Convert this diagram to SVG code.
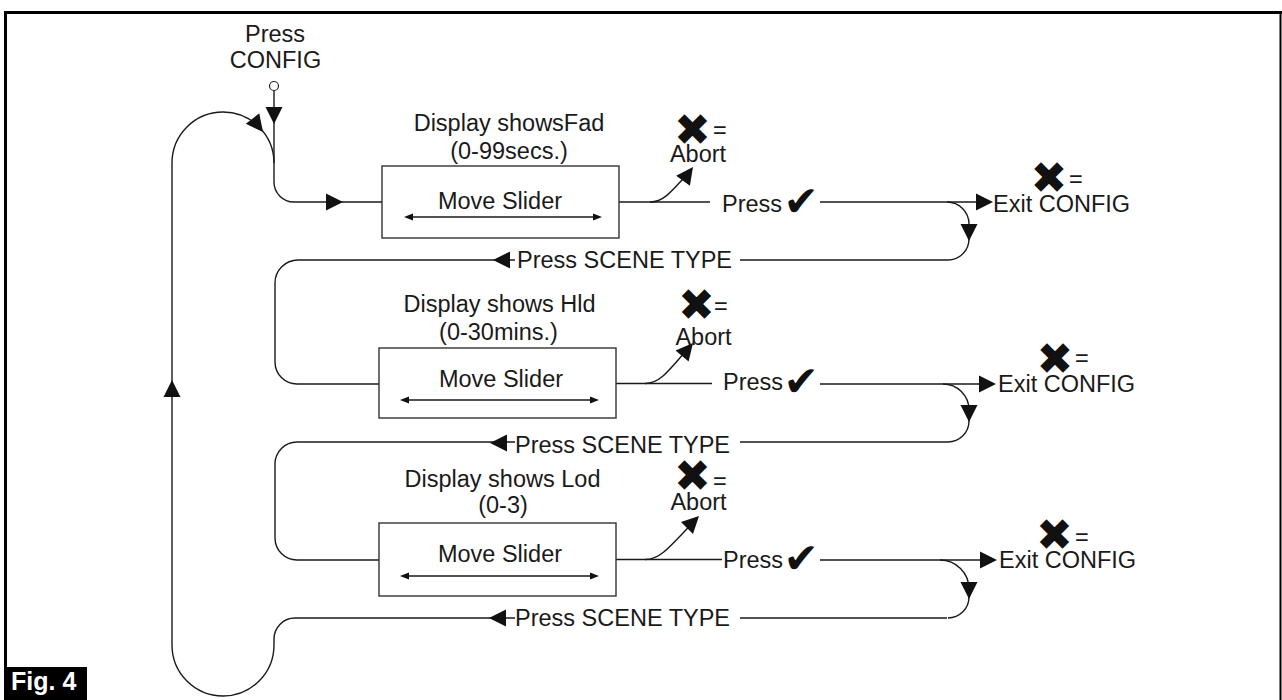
<svg xmlns="http://www.w3.org/2000/svg" xmlns:xlink="http://www.w3.org/1999/xlink" width="1282" height="700" viewBox="0 0 1282 700">
<style>
  .ln { fill: none; stroke: #1a1a1a; stroke-width: 1.4; }
  .box { fill: #fff; stroke: #333; stroke-width: 1.4; }
  .t { font-family: "Liberation Sans", Arial, sans-serif; font-size: 23.5px; fill: #1a1a1a; }
  .c { text-anchor: middle; }
  .sym { font-family: "DejaVu Sans", sans-serif; fill: #111; text-anchor: middle; }
  .x { font-size: 44px; }
  .ck { font-size: 42px; }
  .ah { fill: #111; }
</style>
<defs>
  <path id="ah" d="M0,0 L-17,-8.5 L-17,8.5 Z"/>
  <path id="sa" d="M0,0 L-9,-3.5 L-9,3.5 Z"/>
</defs>
<rect width="1282" height="700" fill="#fff"/>
<g id="frame">
  <line x1="5.5" y1="11" x2="5.5" y2="700" stroke="#000" stroke-width="3"/>
  <line x1="4" y1="12.5" x2="1282" y2="12.5" stroke="#000" stroke-width="3"/>
  <line x1="1280.5" y1="11" x2="1280.5" y2="700" stroke="#000" stroke-width="2"/>
</g>
<g id="fig-label">
  <rect x="4" y="667" width="83" height="33" fill="#000"/>
  <text x="11" y="690" font-family="Liberation Sans, Arial, sans-serif" font-size="25" font-weight="bold" fill="#fff">Fig. 4</text>
</g>
<g id="start">
  <text class="t c" x="275" y="42" font-size="22">Press</text>
  <text class="t c" x="275.5" y="68" font-size="22">CONFIG</text>
  <circle cx="274" cy="86" r="4.5" fill="#fff" stroke="#222" stroke-width="1.2"/>
</g>
<g id="connectors">
  <!-- entry -->
  <path class="ln" d="M274,90.5 L274,182 A20,20 0 0 0 294,202 L382,202"/>
  <use href="#ah" class="ah" transform="translate(274,124) rotate(90)"/>
  <use href="#ah" class="ah" transform="translate(343,202)"/>
  <!-- big return loop -->
  <path class="ln" d="M740,618 L947,618 M515,618 L295,618 A21,21 0 0 0 274,639 L274,645 A51,51 0 0 1 172,645 L172,163 A51,51 0 0 1 274,163"/>
  <use href="#ah" class="ah" transform="translate(172,380) rotate(-90)"/>
  <use href="#ah" class="ah" transform="translate(263,132) rotate(52)"/>
  <!-- row 1 -->
  <path class="ln" d="M619,202 L710,202 M820,202 L977,202"/>
  <path class="ln" d="M650,202 C662,202 668,196 690,171"/>
  <use href="#ah" class="ah" transform="translate(693,167) rotate(-54)"/>
  <use href="#ah" class="ah" transform="translate(993,202)"/>
  <path class="ln" d="M947,202 A22,22 0 0 1 969,224 L969,239 A21,21 0 0 1 948,260 L740,260 M515,260 L298,260 A23,23 0 0 0 275,283 L275,362 A22,22 0 0 0 297,384 L379,384"/>
  <use href="#ah" class="ah" transform="translate(969,241) rotate(90)"/>
  <use href="#ah" class="ah" transform="translate(493,260) rotate(180)"/>
  <!-- row 2 -->
  <path class="ln" d="M616,383.5 L712,383.5 M820,384 L979,384"/>
  <path class="ln" d="M645,383.5 C658,383.5 665,376 690,346"/>
  <use href="#ah" class="ah" transform="translate(693,343) rotate(-50)"/>
  <use href="#ah" class="ah" transform="translate(996,384)"/>
  <path class="ln" d="M943,384 A26,26 0 0 1 969,410 L969,421 A21,21 0 0 1 948,442 L740,442 M515,442 L297,442 A22,22 0 0 0 275,464 L275,538 A22,22 0 0 0 297,560 L379,560"/>
  <use href="#ah" class="ah" transform="translate(969,422) rotate(90)"/>
  <use href="#ah" class="ah" transform="translate(490,443) rotate(180)"/>
  <!-- row 3 -->
  <path class="ln" d="M616,559.5 L722,559.5 M820,560 L980,560"/>
  <path class="ln" d="M645,559.5 C658,559.5 665,553 696,519"/>
  <use href="#ah" class="ah" transform="translate(699,516) rotate(-45)"/>
  <use href="#ah" class="ah" transform="translate(997,560)"/>
  <path class="ln" d="M940,560 A29,29 0 0 1 969,589 L969,597 A21,21 0 0 1 948,618"/>
  <use href="#ah" class="ah" transform="translate(969,599) rotate(90)"/>
  <use href="#ah" class="ah" transform="translate(489,618) rotate(180)"/>
</g>
<g id="node-fad">
  <text class="t c" x="509" y="131">Display showsFad</text>
  <text class="t c" x="509" y="159">(0-99secs.)</text>
  <rect class="box" x="382" y="166" width="237" height="72"/>
  <text class="t c" x="500" y="209">Move Slider</text>
  <line class="ln" x1="410" y1="217" x2="596" y2="217" stroke-width="1.2"/>
  <use href="#sa" class="ah" transform="translate(404,217) rotate(180)"/>
  <use href="#sa" class="ah" transform="translate(602,217)"/>
</g>
<g id="node-hld">
  <text class="t c" x="499.5" y="312">Display shows Hld</text>
  <text class="t c" x="498.5" y="340">(0-30mins.)</text>
  <rect class="box" x="379" y="348" width="237" height="70"/>
  <text class="t c" x="501" y="387">Move Slider</text>
  <line class="ln" x1="406" y1="400" x2="593" y2="400" stroke-width="1.2"/>
  <use href="#sa" class="ah" transform="translate(400,400) rotate(180)"/>
  <use href="#sa" class="ah" transform="translate(599,400)"/>
</g>
<g id="node-lod">
  <text class="t c" x="502.5" y="487">Display shows Lod</text>
  <text class="t c" x="503" y="513">(0-3)</text>
  <rect class="box" x="379" y="523" width="237" height="73"/>
  <text class="t c" x="500" y="562">Move Slider</text>
  <line class="ln" x1="406" y1="576" x2="593" y2="576" stroke-width="2"/>
  <use href="#sa" class="ah" transform="translate(400,576) rotate(180)"/>
  <use href="#sa" class="ah" transform="translate(599,576)"/>
</g>
<g id="abort-1">
  <text class="sym x" x="692.5" y="145">✖</text>
  <text class="t" x="713" y="138">=</text>
  <text class="t c" x="698" y="162">Abort</text>
</g>
<g id="abort-2">
  <text class="sym x" x="696.5" y="320">✖</text>
  <text class="t" x="714" y="314">=</text>
  <text class="t c" x="703.5" y="345">Abort</text>
</g>
<g id="abort-3">
  <text class="sym x" x="692.5" y="491">✖</text>
  <text class="t" x="713" y="489">=</text>
  <text class="t c" x="698.5" y="510">Abort</text>
</g>
<g id="labels">
  <text class="t" x="722" y="212">Press</text>
  <text class="sym ck" x="801" y="216">✔</text>
  <text class="t" x="723" y="390">Press</text>
  <text class="sym ck" x="801" y="396">✔</text>
  <text class="t" x="723" y="568">Press</text>
  <text class="sym ck" x="801" y="573">✔</text>
  <text class="t" x="517" y="268">Press SCENE TYPE</text>
  <text class="t" x="515" y="453">Press SCENE TYPE</text>
  <text class="t" x="515" y="626">Press SCENE TYPE</text>
</g>
<g id="exit-1">
  <text class="sym x" x="1049" y="193">✖</text>
  <text class="t" x="1069" y="187">=</text>
  <text class="t" x="993" y="212">Exit CONFIG</text>
</g>
<g id="exit-2">
  <text class="sym x" x="1055" y="374">✖</text>
  <text class="t" x="1075" y="366">=</text>
  <text class="t" x="998" y="392">Exit CONFIG</text>
</g>
<g id="exit-3">
  <text class="sym x" x="1054.5" y="550">✖</text>
  <text class="t" x="1075" y="545">=</text>
  <text class="t" x="999" y="568">Exit CONFIG</text>
</g>
</svg>
